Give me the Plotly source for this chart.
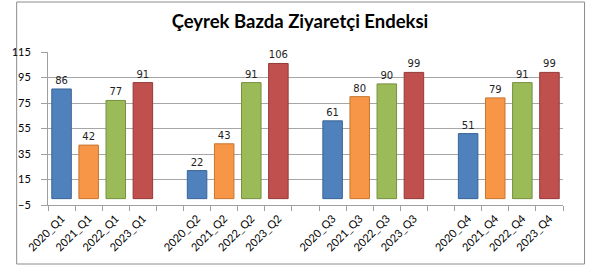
import plotly.graph_objects as go

title = "Çeyrek Bazda Ziyaretçi Endeksi"
years = ["2020", "2021", "2022", "2023"]
quarters = ["Q1", "Q2", "Q3", "Q4"]
# values[year][quarter]
values_2020 = [86, 22, 61, 51]
values_2021 = [42, 43, 80, 79]
values_2022 = [77, 91, 90, 91]
values_2023 = [91, 106, 99, 99]
series_values = [values_2020, values_2021, values_2022, values_2023]
colors = ["#4F81BD", "#F79646", "#9BBB59", "#C0504D"]
edge_colors = ["#3A6496", "#C7762F", "#77913F", "#943A38"]
y_ticks = [-5, 15, 35, 55, 75, 95, 115]

# category order with an empty slot between quarter groups
category_order = []
for qi, q in enumerate(quarters):
    for y in years:
        category_order.append(f"{y}_{q}")
    if qi < len(quarters) - 1:
        category_order.append(" " * (qi + 1))

W, H = 593, 269
L, R, T, B = 37, 30, 52, 64
pw, ph = W - L - R, H - T - B

fig = go.Figure()
for yi, y in enumerate(years):
    fig.add_trace(go.Bar(
        x=[f"{y}_{q}" for q in quarters],
        y=series_values[yi],
        width=0.72,
        marker=dict(color=colors[yi], line=dict(color=edge_colors[yi], width=1)),
        text=[str(v) for v in series_values[yi]],
        textposition="outside",
        textfont=dict(family="DejaVu Sans", size=10, color="#222222"),
        cliponaxis=False,
        showlegend=False,
    ))

# outer chart border
x0 = (5 - L) / pw
x1 = (585 - L) / pw
y1 = (H - B - 2) / ph
y0 = (H - B - 264) / ph
fig.add_shape(type="rect", xref="paper", yref="paper", x0=x0, x1=x1, y0=y0, y1=y1,
              line=dict(color="#8C8C8C", width=1), fillcolor="rgba(0,0,0,0)", layer="below")

fig.update_layout(
    width=W, height=H,
    margin=dict(l=L, r=R, t=T, b=B, pad=0),
    paper_bgcolor="white", plot_bgcolor="white",
    barmode="overlay",
    title=dict(text=f"<b>{title}</b>", x=(L + pw / 2) / W, xref="container", xanchor="center",
               y=1 - 22 / H, yref="container", yanchor="middle",
               font=dict(family="Lato", size=18.5, color="#000000")),
    xaxis=dict(
        type="category", categoryorder="array", categoryarray=category_order,
        range=[-0.5, len(category_order) - 0.5],
        tickangle=-45, tickson="boundaries", ticks="outside", ticklen=5,
        tickcolor="#A0A0A0", showline=True, linecolor="#A0A0A0", linewidth=1,
        showgrid=False, tickfont=dict(family="Lato", size=11, color="#000000"),
        ticklabelstandoff=2,
    ),
    yaxis=dict(
        range=[-5, 115], tickvals=y_ticks, ticks="outside", ticklen=6,
        tickcolor="#A0A0A0", showline=True, linecolor="#A0A0A0", linewidth=1,
        showgrid=True, gridcolor="#A6A6A6", gridwidth=1, zeroline=False,
        tickfont=dict(family="Lato", size=11, color="#000000"), ticklabelstandoff=8,
    ),
)

fig.write_html("out.html")
